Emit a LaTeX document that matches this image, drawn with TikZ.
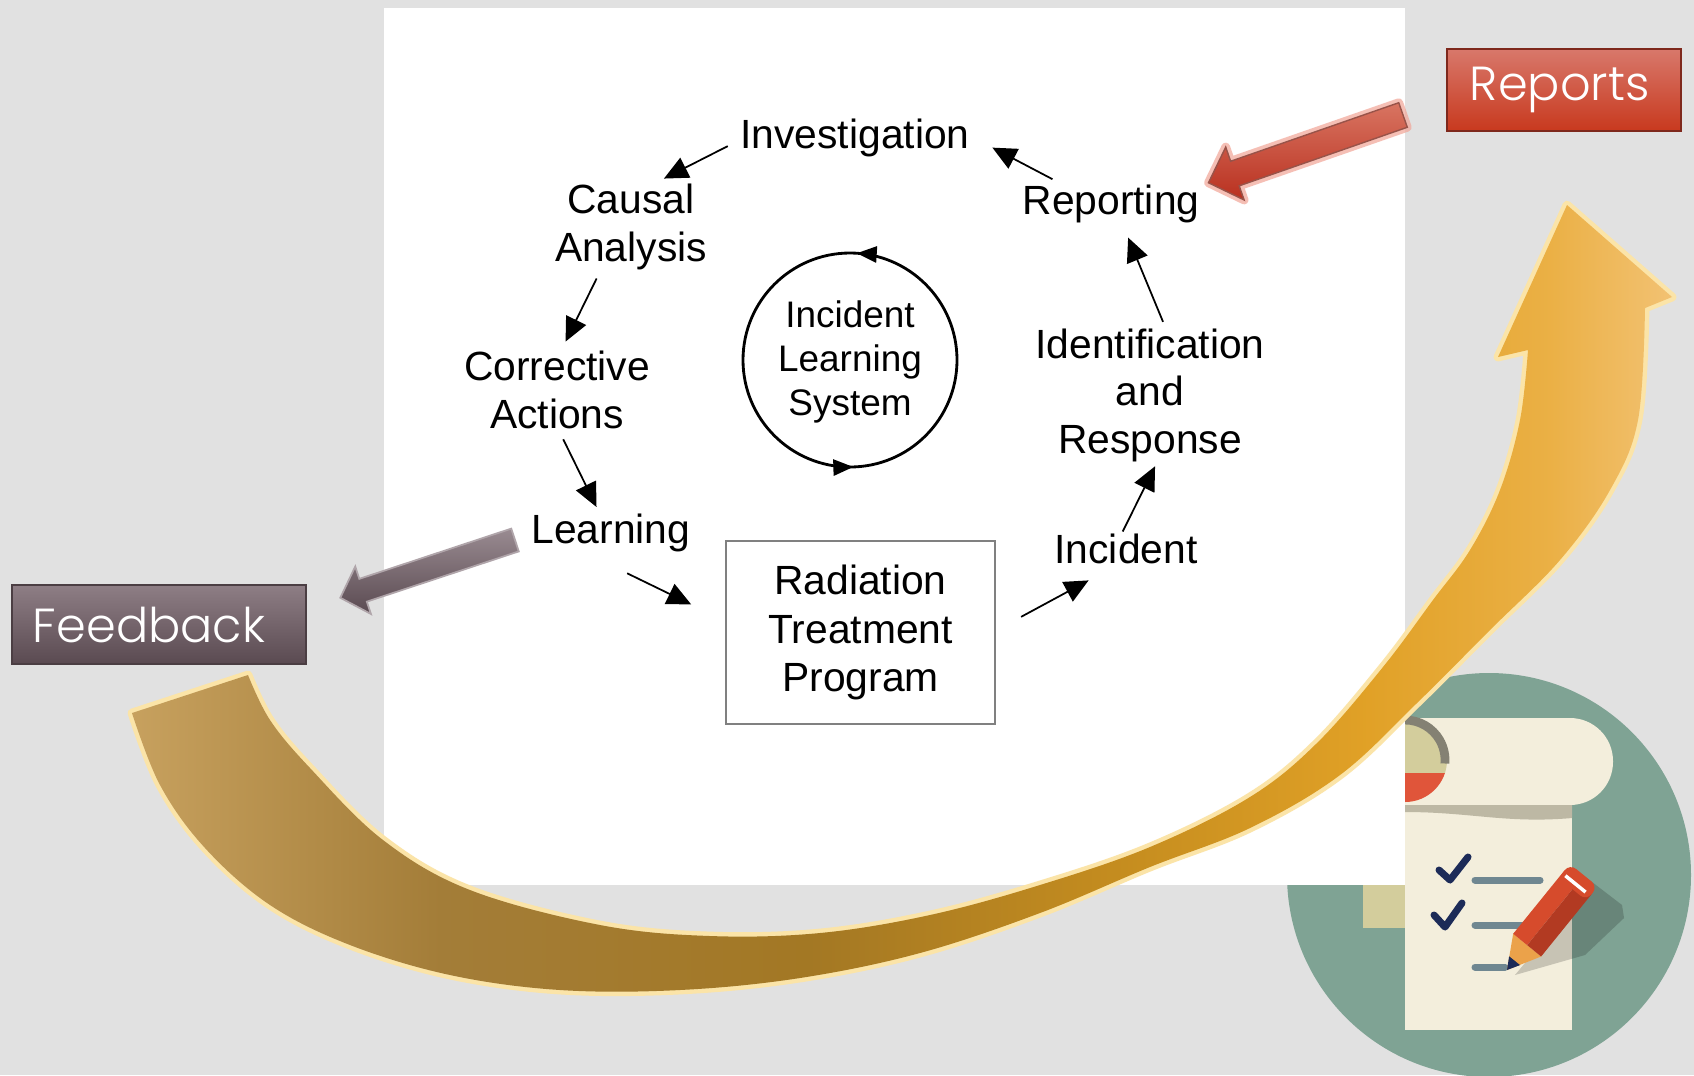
\documentclass[tikz,border=0pt]{standalone}
\usepackage{fontspec}
\usetikzlibrary{arrows.meta, decorations.markings}
\newfontfamily\diagfont{Liberation Sans}
\IfFontExistsTF{Poppins Light}{\newfontfamily\tagfont{Poppins Light}}{\newfontfamily\tagfont{Poppins}}
\definecolor{slidegrey}{HTML}{E1E1E1}
\definecolor{reptop}{HTML}{D8786B}
\definecolor{repmid}{HTML}{B9301F}
\definecolor{repbot}{HTML}{C8391E}
\definecolor{repedge}{HTML}{7E281C}
\definecolor{redglow}{HTML}{F2A597}
\definecolor{fbtop}{HTML}{8E7E85}
\definecolor{fbbot}{HTML}{5A4A51}
\definecolor{fbedge}{HTML}{4B3E43}
\definecolor{goldglow}{HTML}{FBE4A8}
\definecolor{iconteal}{HTML}{7FA394}
\definecolor{papercream}{HTML}{F3EEDC}
\definecolor{paperkhaki}{HTML}{D3CD9C}
\definecolor{papershade}{HTML}{BDB8A4}
\definecolor{scrollred}{HTML}{E0553A}
\definecolor{inknavy}{HTML}{1C2B58}
\definecolor{lineslate}{HTML}{6F8791}
\definecolor{pencilred}{HTML}{D64B2C}
\definecolor{pencildark}{HTML}{B23A22}
\definecolor{pencilwood}{HTML}{EBA24A}
% tan at the tail, dark gold at the bottom, bright gold at the head
\pgfdeclarehorizontalshading{goldband}{100bp}{
  rgb(0bp)=(0.78,0.63,0.37); rgb(25bp)=(0.78,0.63,0.37);
  rgb(35bp)=(0.64,0.49,0.22); rgb(47bp)=(0.64,0.47,0.14);
  rgb(57bp)=(0.77,0.55,0.12); rgb(65bp)=(0.88,0.63,0.15);
  rgb(71bp)=(0.92,0.69,0.27); rgb(75bp)=(0.95,0.76,0.45);
  rgb(100bp)=(0.95,0.76,0.45)}
\tikzset{
  >={Triangle[length=2.4mm, width=2.2mm]},
  stage/.style={font=\diagfont\fontsize{11.6pt}{13.5pt}\selectfont, align=center, inner sep=0pt},
  cyc/.style={->, line width=0.5pt},
  ring/.style={line width=0.8pt, postaction={decorate}, decoration={markings,
      mark=at position 0.24 with {\arrow{Triangle[length=2mm, width=1.6mm]}},
      mark=at position 0.755 with {\arrow{Triangle[length=2mm, width=1.6mm]}}}},
  tagbox/.style={font=\tagfont\fontsize{13.6pt}{16pt}\selectfont, text=white, align=left,
                 draw, line width=0.6pt},
}

\begin{document}
\begin{tikzpicture}[x=0.01cm, y=0.01cm]
  \useasboundingbox (0,0) rectangle (1694,-1075);
  \fill[slidegrey] (0,0) rectangle (1694,-1075);

  % checklist icon
  \fill[iconteal] (1489,-875) circle[radius=202];
  \fill[paperkhaki] (1363,-885) rectangle (1405,-928);
  \fill[papercream] (1405,-805) rectangle (1572,-1030);
  \fill[papercream, rounded corners=0.43cm] (1330,-718) rectangle (1613,-805);
  \fill[papershade] (1405,-805) -- (1572,-805) -- (1572,-818) to[out=185,in=0] (1405,-812) -- cycle;
  \begin{scope}
    \clip (1405,-760) circle[radius=42];
    \fill[paperkhaki] (1350,-700) rectangle (1460,-773);
    \fill[scrollred] (1350,-773) rectangle (1460,-820);
  \end{scope}
  \draw[papershade!70!black, line width=2.5pt] (1405,-720) arc[start angle=90, end angle=-5, radius=40];
  \draw[inknavy, line width=2pt, line cap=round, line join=round] (1439,-870) -- (1450,-880) -- (1468,-857);
  \draw[inknavy, line width=2pt, line cap=round, line join=round] (1434,-915) -- (1445,-927) -- (1462,-903);
  \draw[lineslate, line width=2pt, line cap=round] (1475,-880) -- (1540,-880);
  \draw[lineslate, line width=2pt, line cap=round] (1475,-925) -- (1530,-925);
  \draw[lineslate, line width=2pt, line cap=round] (1475,-967) -- (1505,-967);
  \fill[black, opacity=0.18] (1592,-882) -- (1622,-905) -- (1624,-918) -- (1585,-955) -- (1515,-975) -- cycle;
  \begin{scope}[shift={(1507,-970)}, rotate=51]
    \fill[pencilwood] (0,0) -- (32,18) -- (32,-18) -- cycle;
    \fill[inknavy] (0,0) -- (12,7) -- (12,-7) -- cycle;
    \fill[pencilred] (32,0) rectangle (112,18);
    \fill[pencildark] (32,0) rectangle (112,-18);
    \fill[pencilred, rounded corners=0.08cm] (104,-18) rectangle (122,18);
    \draw[white, line width=1pt] (110,-12) -- (110,14);
  \end{scope}

  % white slide panel
  \fill[white] (384,-8) rectangle (1405,-885);

  % learning cycle
  \node[stage] (inv) at (855,-138) {Investigation};
  \node[stage] (caus) at (631,-227) {Causal\\Analysis};
  \node[stage] (corr) at (557,-390) {Corrective\\Actions};
  \node[stage] (learn) at (611,-533) {Learning};
  \node[stage, draw=black!50, line width=0.8pt, minimum width=2.69cm, minimum height=1.83cm,
        font=\diagfont\fontsize{11.6pt}{13.8pt}\selectfont] (rtp) at (860.5,-632.5) {Radiation\\Treatment\\Program};
  \node[stage] (inc) at (1126,-549) {Incident};
  \node[stage] (idr) at (1150,-395) {Identification\\and\\Response};
  \node[stage] (rep) at (1111,-204) {Reporting};
  \node[stage, font=\diagfont\fontsize{10.5pt}{12.5pt}\selectfont] (ils) at (850,-362) {Incident\\Learning\\System};
  \draw[ring] (957,-360) arc[start angle=0, end angle=360, radius=107];

  \draw[cyc, shorten <=1.1mm, shorten >=2.5mm] (rep.158) -- (inv.1);
  \draw[cyc, shorten <=1.35mm, shorten >=1.1mm] (inv.181) -- (caus.62);
  \draw[cyc, shorten <=0.9mm, shorten >=1mm] (caus.235) -- (corr.84);
  \draw[cyc, shorten <=1.1mm, shorten >=0.7mm] (corr.-88) -- (learn.120);
  \draw[cyc, shorten <=4.7mm, shorten >=3.7mm] (learn.217) -- (rtp.175);
  \draw[cyc, shorten <=2.8mm, shorten >=3.3mm] (rtp.1) -- (inc.242);
  \draw[cyc, shorten <=0.2mm, shorten >=0.45mm] (inc.105) -- (idr.-84);
  \draw[cyc, shorten <=0.65mm, shorten >=1.5mm] (idr.77) -- (rep.-60);

  % side tags
  \node[tagbox, top color=reptop, middle color=repmid, bottom color=repbot, draw=repedge,
        minimum height=0.82cm, text width=1.88cm, inner xsep=0.23cm] (reports) at (1564,-90) {Reports};
  \node[tagbox, top color=fbtop, bottom color=fbbot, draw=fbedge,
        minimum height=0.79cm, text width=2.52cm, inner xsep=0.21cm] (fb) at (159,-624.5) {Feedback};

  \coordinate (redtail) at (1403,-115);
  \coordinate (greytail) at (515,-540);
  \begin{scope}[shift={(redtail)}, rotate=199.2]
    \draw[redglow, line width=2.5pt, line join=round, opacity=0.7]
      (0,13) -- (178,13) -- (178,28) -- (206,0) -- (178,-28) -- (178,-13) -- (0,-13) -- cycle;
    \shade[top color=repbot!70!white, bottom color=repmid, draw=repedge!80, line width=0.4pt]
      (0,13) -- (178,13) -- (178,28) -- (206,0) -- (178,-28) -- (178,-13) -- (0,-13) -- cycle;
  \end{scope}
  \begin{scope}[shift={(greytail)}, rotate=198.3]
    \shade[top color=fbtop!90!white, bottom color=fbbot, draw=fbtop!70!white, line width=0.5pt]
      (0,12) -- (160,12) -- (160,25) -- (184,0) -- (160,-25) -- (160,-12) -- (0,-12) -- cycle;
  \end{scope}

  % curved gold arrow
  \shade[preaction={draw=goldglow, line width=2.5pt, line join=round}, shading=goldband]
    plot[smooth, tension=0.6] coordinates {(132,-713) (160,-785) (205,-848) (270,-905) (350,-945)
      (450,-975) (560,-990) (680,-990) (800,-978) (920,-953) (1040,-913) (1150,-867) (1250,-828)
      (1340,-775) (1417,-703) (1490,-630) (1560,-560) (1610,-490) (1638,-420) (1645,-308)}
    -- (1672,-297) -- (1567,-205) -- (1498,-357)
    -- plot[smooth, tension=0.6] coordinates {(1528,-350) (1520,-420) (1500,-490) (1470,-550)
      (1433,-600) (1383,-667) (1317,-743) (1250,-797) (1150,-847) (1040,-885) (930,-915)
      (820,-933) (710,-936) (600,-925) (470,-890) (383,-840) (310,-768) (270,-720) (248,-675)}
    -- cycle;
\end{tikzpicture}
\end{document}
